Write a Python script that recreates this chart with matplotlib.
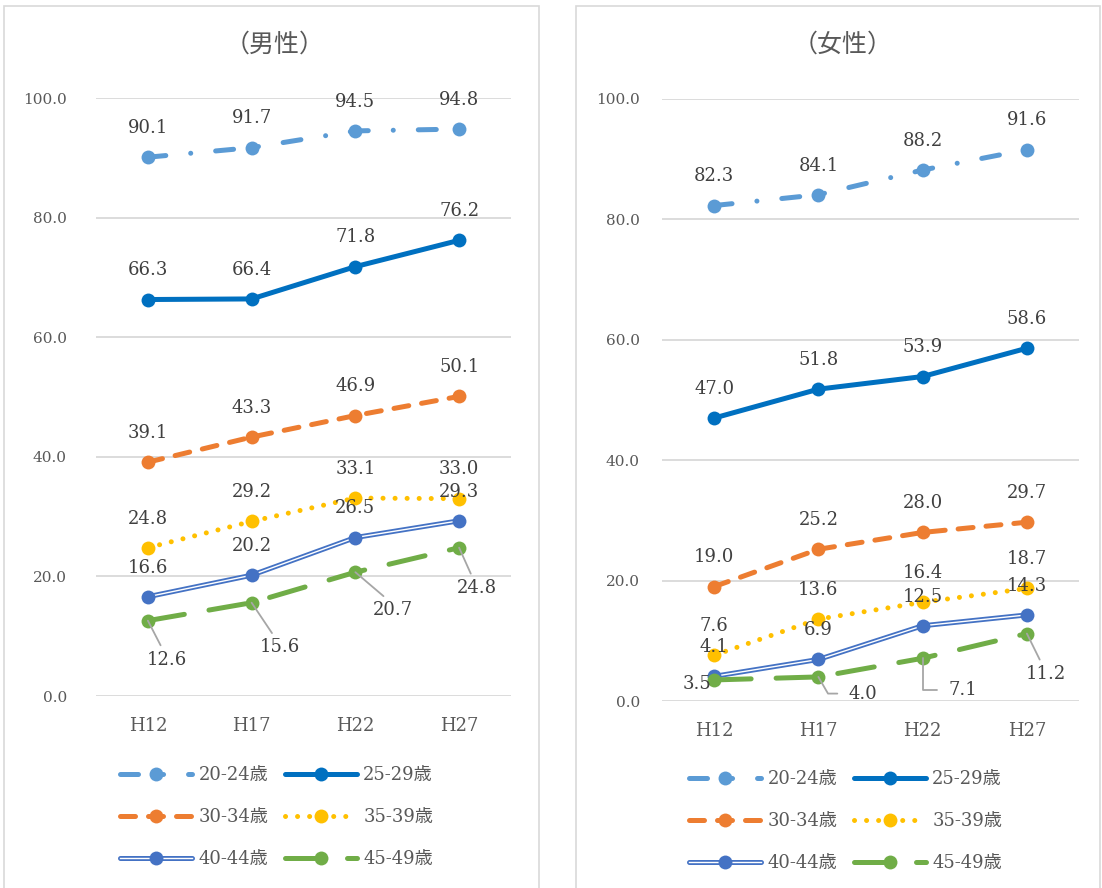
import matplotlib
matplotlib.use("Agg")
import matplotlib.pyplot as plt
from matplotlib.lines import Line2D
from matplotlib.patches import Rectangle
from matplotlib.legend_handler import HandlerTuple

# ---------------- data ----------------
categories = ["H12", "H17", "H22", "H27"]
series_names = ["20-24歳", "25-29歳", "30-34歳", "35-39歳", "40-44歳", "45-49歳"]

male_20_24 = [90.1, 91.7, 94.5, 94.8]
male_25_29 = [66.3, 66.4, 71.8, 76.2]
male_30_34 = [39.1, 43.3, 46.9, 50.1]
male_35_39 = [24.8, 29.2, 33.1, 33.0]
male_40_44 = [16.6, 20.2, 26.5, 29.3]
male_45_49 = [12.6, 15.6, 20.7, 24.8]

female_20_24 = [82.3, 84.1, 88.2, 91.6]
female_25_29 = [47.0, 51.8, 53.9, 58.6]
female_30_34 = [19.0, 25.2, 28.0, 29.7]
female_35_39 = [7.6, 13.6, 16.4, 18.7]
female_40_44 = [4.1, 6.9, 12.5, 14.3]
female_45_49 = [3.5, 4.0, 7.1, 11.2]

yticks = [0, 20, 40, 60, 80, 100]
titles = ["（男性）", "（女性）"]

# ---------------- style ----------------
W, H = 1102, 888
DPI = 100
LW = 3.6  # points (~5 px)
colors = ["#5B9BD5", "#0070C0", "#ED7D31", "#FFC000", "#4472C4", "#70AD47"]
dashes = [
    (0, (3.6, 5.0, 0.01, 5.0)),
    "-",
    (0, (3.0, 2.6)),
    (0, (0.01, 2.4)),
    "-",
    (0, (7.4, 5.0)),
]
MS = 10
TXT = "#404040"
TICK = "#595959"
GRID = "#D9D9D9"
SERIF = ["DejaVu Serif", "Noto Sans CJK JP"]
CJK = ["Noto Sans CJK JP", "DejaVu Sans"]

plt.rcParams["font.family"] = SERIF

fig = plt.figure(figsize=(W / DPI, H / DPI), dpi=DPI)

# panel frames
for (x0, x1) in [(4, 539), (576, 1100)]:
    fig.add_artist(Rectangle((x0 / W, -0.01), (x1 - x0) / W, 1 - 6 / H + 0.01,
                             transform=fig.transFigure, fill=False,
                             edgecolor=GRID, lw=1.2))


def px_rect(l, r, b, t):
    return [l / W, 1 - b / H, (r - l) / W, (b - t) / H]


def draw_series(ax, x, y, i):
    c = colors[i]
    z = 3 + i
    if i == 4:
        ax.plot(x, y, color=c, lw=LW, solid_capstyle="round", zorder=z)
        ax.plot(x, y, color="white", lw=1.0, solid_capstyle="round", zorder=z + 0.1)
    else:
        ax.plot(x, y, color=c, lw=LW, linestyle=dashes[i],
                dash_capstyle="round", solid_capstyle="round", zorder=z)
    ax.plot(x, y, linestyle="none", marker="o", ms=MS, color=c,
            markeredgewidth=0, zorder=z + 0.2)


def label_above(ax, x, y):
    for xi, yi in zip(x, y):
        ax.annotate(f"{yi:.1f}", (xi, yi), xytext=(0, 21), textcoords="offset points",
                    ha="center", va="center", fontsize=13, color=TXT, zorder=20)


def make_axes(rect, pad_y):
    ax = fig.add_axes(rect)
    ax.set_xlim(-0.5, 3.5)
    ax.set_ylim(0, 100)
    ax.set_yticks(yticks)
    ax.set_yticklabels([f"{v:.1f}" for v in yticks])
    ax.set_xticks(range(len(categories)))
    ax.set_xticklabels(categories)
    for s in ax.spines.values():
        s.set_visible(False)
    ax.tick_params(axis="both", length=0, labelcolor=TICK)
    ax.tick_params(axis="y", pad=pad_y, labelsize=11)
    ax.tick_params(axis="x", pad=15, labelsize=13)
    ax.grid(axis="y", color=GRID, lw=1.3, zorder=0)
    ax.set_axisbelow(True)
    return ax


axL = make_axes(px_rect(96, 511, 696, 98), 21)
axR = make_axes(px_rect(662, 1079, 701, 99), 16)

xs = list(range(len(categories)))
male = [male_20_24, male_25_29, male_30_34, male_35_39, male_40_44, male_45_49]
female = [female_20_24, female_25_29, female_30_34, female_35_39, female_40_44, female_45_49]

for ax, data in [(axL, male), (axR, female)]:
    for i, ys in enumerate(data):
        draw_series(ax, xs, ys, i)
    for i, ys in enumerate(data[:5]):
        label_above(ax, xs, ys)

LEAD = "#A6A6A6"
# male 45-49 labels (below-right with leader lines), offsets in points
male_off = [(14, -28), (20, -32), (27, -27), (13, -29)]
for xi, yi, (dx, dy) in zip(xs, male_45_49, male_off):
    axL.annotate(f"{yi:.1f}", (xi, yi), xytext=(dx, dy), textcoords="offset points",
                 ha="center", va="center", fontsize=13, color=TXT, zorder=20,
                 arrowprops=dict(arrowstyle="-", color=LEAD, lw=1.3, shrinkA=2, shrinkB=0,
                                 relpos=(0.4, 1.0)))

# female 45-49 labels
axR.annotate(f"{female_45_49[0]:.1f}", (xs[0], female_45_49[0]), xytext=(-12, -3),
             textcoords="offset points", ha="center", va="center", fontsize=13,
             color=TXT, zorder=20)
axR.annotate(f"{female_45_49[1]:.1f}", (xs[1], female_45_49[1]), xytext=(32, -12),
             textcoords="offset points", ha="center", va="center", fontsize=13,
             color=TXT, zorder=20,
             arrowprops=dict(arrowstyle="-", color=LEAD, lw=1.3, shrinkA=6, shrinkB=0,
                             relpos=(0.0, 0.5),
                             connectionstyle="angle,angleA=0,angleB=120,rad=0"))
axR.annotate(f"{female_45_49[2]:.1f}", (xs[2], female_45_49[2]), xytext=(29, -23),
             textcoords="offset points", ha="center", va="center", fontsize=13,
             color=TXT, zorder=20,
             arrowprops=dict(arrowstyle="-", color=LEAD, lw=1.3, shrinkA=6, shrinkB=0,
                             relpos=(0.0, 0.5),
                             connectionstyle="angle,angleA=0,angleB=90,rad=0"))
axR.annotate(f"{female_45_49[3]:.1f}", (xs[3], female_45_49[3]), xytext=(14, -29),
             textcoords="offset points", ha="center", va="center", fontsize=13,
             color=TXT, zorder=20,
             arrowprops=dict(arrowstyle="-", color=LEAD, lw=1.3, shrinkA=2, shrinkB=0,
                             relpos=(0.4, 1.0)))

# titles
fig.text(275 / W, 1 - 45 / H, titles[0], ha="center", va="center", fontsize=18,
         color=TICK, family=CJK)
fig.text(843 / W, 1 - 45 / H, titles[1], ha="center", va="center", fontsize=18,
         color=TICK, family=CJK)


# legends
def legend_handles():
    hs = []
    for i in range(6):
        c = colors[i]
        if i == 4:
            h = (Line2D([], [], color=c, lw=LW, solid_capstyle="round"),
                 Line2D([], [], color="white", lw=1.0),
                 Line2D([], [], linestyle="none", marker="o", ms=MS, color=c, markeredgewidth=0))
        else:
            h = (Line2D([], [], color=c, lw=LW, linestyle=dashes[i], dash_capstyle="round",
                        solid_capstyle="round"),
                 Line2D([], [], linestyle="none", marker="o", ms=MS, color=c, markeredgewidth=0))
        hs.append(h)
    return hs


order = [0, 2, 4, 1, 3, 5]  # row-wise layout in 2 columns
for (lx, ly) in [(120, 766), (689, 770)]:
    hs = legend_handles()
    leg = fig.legend([hs[k] for k in order], [series_names[k] for k in order],
                     loc="upper left",
                     bbox_to_anchor=(lx / W, 1 - ly / H), ncol=2, frameon=False,
                     prop=dict(family=SERIF, size=13),
                     handlelength=4.0, handletextpad=0.35,
                     columnspacing=0.9, labelspacing=1.33, borderpad=0, borderaxespad=0,
                     handler_map={tuple: HandlerTuple(ndivide=1)})
    for t in leg.get_texts():
        t.set_color(TICK)

fig.savefig("out.png", dpi=DPI)
